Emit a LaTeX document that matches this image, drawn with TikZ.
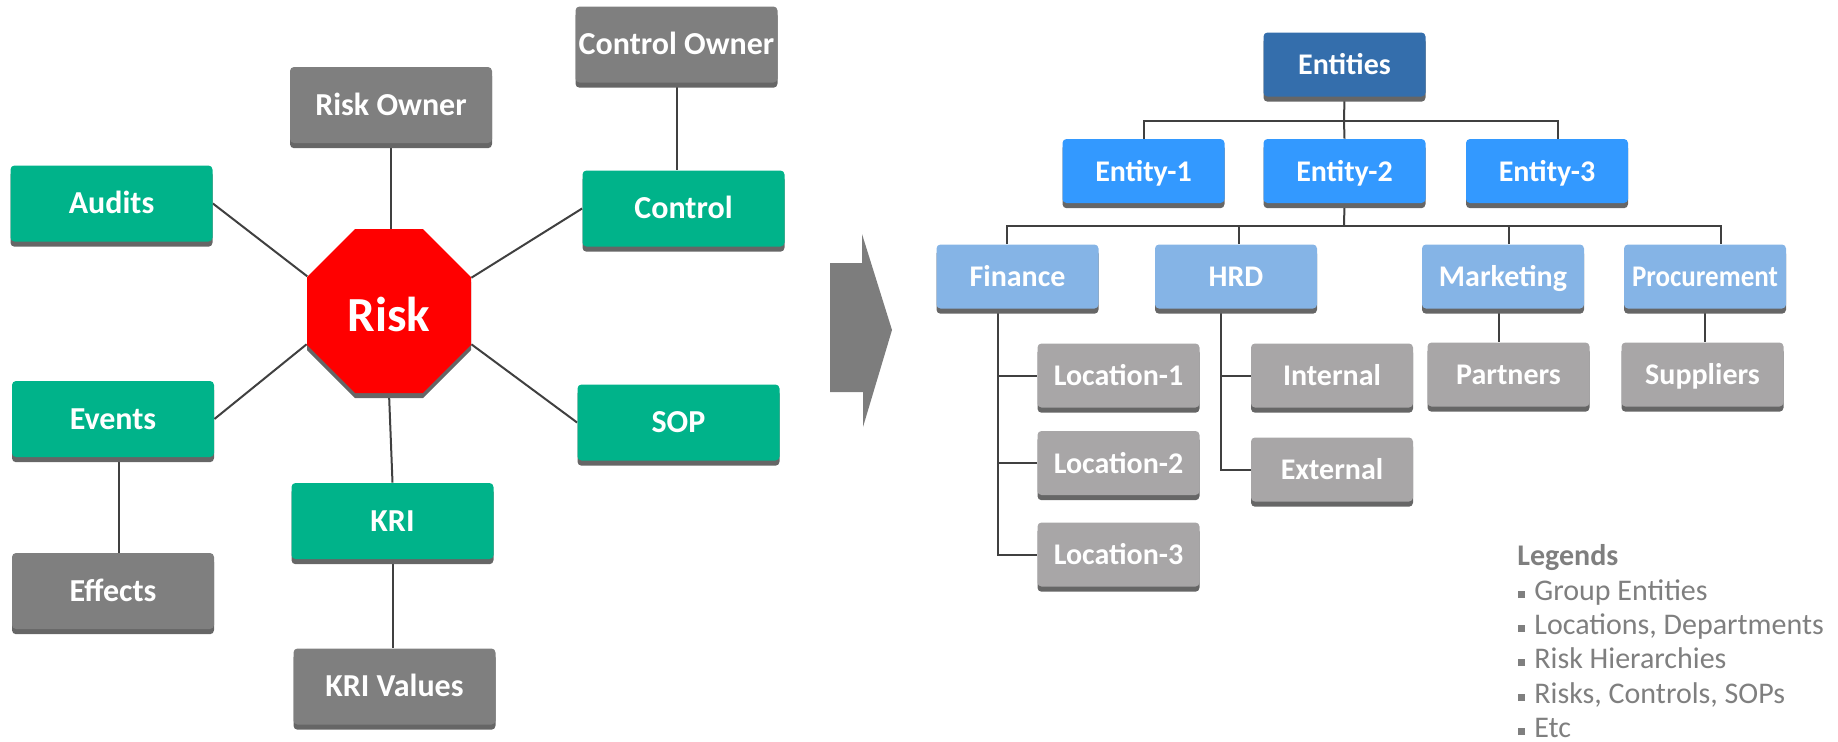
\documentclass[tikz,border=0pt]{standalone}
\usepackage{fontspec}
\setmainfont{Carlito}
\usetikzlibrary{shapes.geometric,shadows,backgrounds}
\definecolor{grnc}{RGB}{0,179,138}
\definecolor{dgreyc}{RGB}{127,127,127}
\definecolor{shdc}{RGB}{102,102,102}
\definecolor{entdark}{RGB}{52,110,172}
\definecolor{entblue}{RGB}{51,153,255}
\definecolor{deptblue}{RGB}{133,180,230}
\definecolor{locgrey}{RGB}{168,166,167}
\definecolor{linec}{RGB}{64,64,64}
\definecolor{legc}{RGB}{127,127,127}
\definecolor{arrowc}{RGB}{125,125,125}
\begin{document}
\begin{tikzpicture}[x=0.5pt,y=-0.5pt,
  shd/.style={drop shadow={shadow xshift=0pt,shadow yshift=-2.6pt,fill=shdc,opacity=1}},
  lbox/.style={rectangle, rounded corners=2pt, minimum width=101pt, minimum height=38pt,
    inner sep=0pt, text=white, font=\fontsize{16pt}{19pt}\selectfont\bfseries,
    text height=10.3pt, text depth=0pt, shd},
  gbox/.style={lbox, fill=grnc},
  dbox/.style={lbox, fill=dgreyc},
  rbox/.style={rectangle, rounded corners=2pt, minimum width=81pt, minimum height=32pt,
    inner sep=0pt, text=white, font=\fontsize{15pt}{18pt}\selectfont\bfseries,
    text height=10pt, text depth=0pt, shd},
  topbox/.style={rbox, fill=entdark},
  entbox/.style={rbox, fill=entblue},
  deptbox/.style={rbox, fill=deptblue},
  locbox/.style={rbox, fill=locgrey},
  conn/.style={draw=linec, line width=1pt},
  leg/.style={inner sep=0pt, text=legc, font=\fontsize{15pt}{17pt}\selectfont}]
\useasboundingbox (0,0) rectangle (1838,741);

% ---------- left diagram ----------
\node[regular polygon, regular polygon sides=8, minimum size=88.76pt, inner sep=0pt,
  fill=red, text=white, font=\fontsize{24.5pt}{29pt}\selectfont\bfseries,
  text height=20.3pt, text depth=0pt, shd] (risk) at (389,311) {Risk};

\node[dbox] (ctrlown) at (676.5,44.5) {Control Owner};
\node[dbox] (riskown) at (391,105) {Risk Owner};
\node[gbox] (audits) at (111.5,203.5) {Audits\hspace{8pt}};
\node[gbox] (control) at (683.5,208.5) {Control\hspace{15pt}};
\node[gbox] (events) at (113,419) {Events};
\node[gbox] (sop) at (678.5,422.5) {SOP\hspace{10pt}};
\node[gbox] (kri) at (392.5,521) {KRI\hspace{6pt}};
\node[dbox] (effects) at (113,591) {Effects};
\node[dbox] (krival) at (394.5,686.5) {KRI Values};

% ---------- arrow ----------
\fill[arrowc] (830,263) -- (862,263) -- (862,234) -- (892,330) -- (863,427) -- (863,392) -- (830,392) -- cycle;

% ---------- right diagram ----------
\node[topbox] (entities) at (1344.5,64.5) {Entities};
\node[entbox] (e1) at (1143.5,171) {Entity-1};
\node[entbox] (e2) at (1344.5,171) {Entity-2};
\node[entbox] (e3) at (1547,171) {Entity-3};
\node[deptbox] (finance) at (1017.5,276.5) {Finance};
\node[deptbox] (hrd) at (1236,276.5) {HRD};
\node[deptbox] (marketing) at (1503,276.5) {Marketing};
\node[deptbox] (procurement) at (1705,276.5) {\scalebox{0.9}[1]{Procurement}};
\node[locbox] (loc1) at (1118.5,375.5) {Location-1};
\node[locbox] (loc2) at (1118.5,463) {Location-2};
\node[locbox] (loc3) at (1118.5,554.5) {Location-3};
\node[locbox] (internal) at (1332,375.5) {Internal};
\node[locbox] (external) at (1332,469.5) {External};
\node[locbox] (partners) at (1508.5,374.5) {Partners};
\node[locbox] (suppliers) at (1702.5,374.5) {Suppliers};

% ---------- legend ----------
\node[leg, anchor=base west] (leg0) at (1517,565) {\textbf{Legends}};
\node[leg, anchor=base west] (leg1) at (1518,600) {\rule[1pt]{3.5pt}{3.5pt}\hspace{4.5pt}Group Entities};
\node[leg, anchor=base west] (leg2) at (1518,634) {\rule[1pt]{3.5pt}{3.5pt}\hspace{4.5pt}Locations, Departments};
\node[leg, anchor=base west] (leg3) at (1518,668) {\rule[1pt]{3.5pt}{3.5pt}\hspace{4.5pt}Risk Hierarchies};
\node[leg, anchor=base west] (leg4) at (1518,703) {\rule[1pt]{3.5pt}{3.5pt}\hspace{4.5pt}Risks, Controls, SOPs};
\node[leg, anchor=base west] (leg5) at (1518,737) {\rule[1pt]{3.5pt}{3.5pt}\hspace{4.5pt}Etc};

% ---------- connectors ----------
\begin{pgfonlayer}{background}
  \draw[conn] (riskown.south) -- (riskown.south |- risk.north);
  \draw[conn] (ctrlown.south) -- (ctrlown.south |- control.north);
  \draw[conn] (audits.east) -- (risk.157.5);
  \draw[conn] (control.west) -- (risk.22.5);
  \draw[conn] (events.east) -- (risk.202.5);
  \draw[conn] (sop.west) -- (risk.-22.5);
  \draw[conn] (risk.south) -- (kri.north);
  \draw[conn] ([xshift=3pt]events.south) -- ([xshift=3pt]effects.north);
  \draw[conn] (kri.south) -- (kri.south |- krival.north);

  \coordinate (b1) at (1344,121);
  \draw[conn] (entities.south) -- (b1);
  \draw[conn] (e1.north) |- (b1) -| ([xshift=5.5pt]e3.north);
  \draw[conn] (b1) -- (e2.north);

  \coordinate (b2) at (1344,226);
  \draw[conn] (e2.south) -- (b2);
  \draw[conn] ([xshift=-5.25pt]finance.north) |- (b2) -| ([xshift=8pt]procurement.north);
  \draw[conn] ([xshift=1.5pt]hrd.north) -- ([xshift=1.5pt]hrd.north |- b2);
  \draw[conn] ([xshift=3pt]marketing.north) -- ([xshift=3pt]marketing.north |- b2);

  \coordinate (fv) at ([xshift=-9.75pt]finance.south);
  \draw[conn] (fv) |- (loc1.west);
  \draw[conn] (fv) |- (loc2.west);
  \draw[conn] (fv) |- (loc3.west);

  \coordinate (hv) at ([xshift=-7.5pt]hrd.south);
  \draw[conn] (hv) |- (internal.west);
  \draw[conn] (hv) |- (external.west);

  \draw[conn] ([xshift=-2pt]marketing.south) -- ([xshift=-2pt]marketing.south |- partners.north);
  \draw[conn] (procurement.south) -- (procurement.south |- suppliers.north);
\end{pgfonlayer}
\end{tikzpicture}
\end{document}
